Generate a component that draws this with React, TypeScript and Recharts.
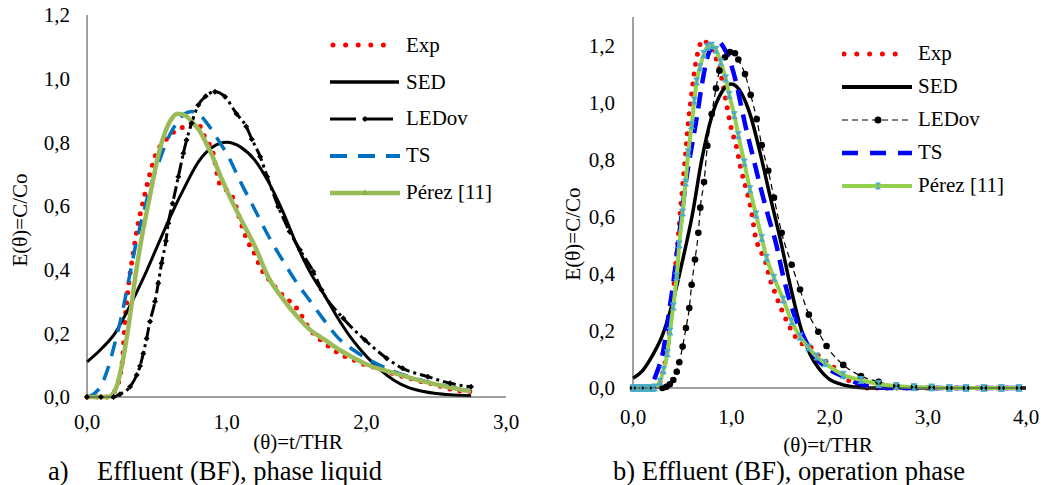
import { LineChart, Line, XAxis, YAxis, Legend } from "recharts";

const FONT = '"Liberation Serif", "Times New Roman", serif';
const FRAME = "#404040";

const seriesNames = ["Exp", "SED", "LEDov", "TS", "Pérez [11]"];

// a) Effluent (BF), phase liquid  -> [θ, E(θ)]
const expA = [
  [0, 0], [0.05, 0], [0.1, 0], [0.15, 0], [0.2, 0.02], [0.25, 0.1], [0.28, 0.28], [0.3, 0.36],
  [0.33, 0.45], [0.36, 0.53], [0.4, 0.61], [0.45, 0.7], [0.5, 0.77], [0.55, 0.8], [0.6, 0.825],
  [0.65, 0.84], [0.7, 0.85], [0.75, 0.86], [0.8, 0.855], [0.85, 0.81], [0.9, 0.77], [0.95, 0.67],
  [1.0, 0.65], [1.05, 0.62], [1.1, 0.55], [1.15, 0.49], [1.2, 0.45], [1.25, 0.4], [1.3, 0.37],
  [1.4, 0.32], [1.5, 0.28], [1.6, 0.21], [1.7, 0.17], [1.8, 0.138], [1.9, 0.118], [2.0, 0.1],
  [2.1, 0.088], [2.2, 0.072], [2.3, 0.06], [2.4, 0.048], [2.5, 0.038], [2.6, 0.025], [2.75, 0.017],
];
const sedA = [
  [0, 0.11], [0.1, 0.15], [0.2, 0.2], [0.3, 0.28], [0.4, 0.37], [0.5, 0.47], [0.6, 0.57],
  [0.7, 0.66], [0.8, 0.74], [0.9, 0.785], [1.0, 0.8], [1.1, 0.785], [1.2, 0.745], [1.3, 0.675],
  [1.4, 0.585], [1.5, 0.48], [1.6, 0.39], [1.7, 0.32], [1.8, 0.245], [1.9, 0.18], [2.0, 0.128],
  [2.1, 0.085], [2.2, 0.052], [2.3, 0.03], [2.4, 0.018], [2.5, 0.011], [2.6, 0.007], [2.75, 0.004],
];
const ledA = [
  [0, 0], [0.1, 0], [0.19, 0], [0.236, 0.009], [0.308, 0.032], [0.356, 0.069], [0.38, 0.097],
  [0.403, 0.137], [0.427, 0.184], [0.451, 0.237], [0.487, 0.3], [0.51, 0.357], [0.534, 0.42],
  [0.565, 0.49], [0.582, 0.546], [0.613, 0.608], [0.654, 0.692], [0.69, 0.766], [0.713, 0.807],
  [0.749, 0.86], [0.797, 0.917], [0.85, 0.945], [0.916, 0.959], [0.988, 0.943], [1.07, 0.89],
  [1.14, 0.85], [1.18, 0.81], [1.24, 0.755], [1.29, 0.692], [1.37, 0.598], [1.45, 0.52],
  [1.525, 0.462], [1.62, 0.394], [1.68, 0.336], [1.835, 0.247], [1.99, 0.179], [2.145, 0.122],
  [2.26, 0.09], [2.44, 0.064], [2.6, 0.043], [2.75, 0.032],
];
const tsA = [
  [0, 0], [0.05, 0.01], [0.1, 0.035], [0.15, 0.09], [0.2, 0.17], [0.25, 0.26], [0.3, 0.37],
  [0.35, 0.48], [0.4, 0.57], [0.45, 0.655], [0.5, 0.72], [0.55, 0.78], [0.6, 0.83], [0.65, 0.865],
  [0.7, 0.89], [0.75, 0.897], [0.8, 0.89], [0.85, 0.865], [0.9, 0.835], [0.95, 0.8], [1.0, 0.765],
  [1.1, 0.675], [1.2, 0.59], [1.3, 0.505], [1.4, 0.43], [1.5, 0.36], [1.6, 0.3], [1.7, 0.24],
  [1.8, 0.185], [1.9, 0.15], [2.0, 0.122], [2.2, 0.08], [2.4, 0.052], [2.6, 0.032], [2.75, 0.02],
];
const perezA = [
  [0, 0], [0.05, 0], [0.1, 0], [0.15, 0], [0.2, 0.02], [0.25, 0.1], [0.3, 0.23], [0.35, 0.39],
  [0.4, 0.52], [0.45, 0.63], [0.5, 0.74], [0.55, 0.82], [0.6, 0.87], [0.65, 0.89], [0.7, 0.885],
  [0.75, 0.865], [0.8, 0.84], [0.85, 0.8], [0.9, 0.755], [0.95, 0.7], [1.0, 0.65], [1.1, 0.56],
  [1.2, 0.475], [1.3, 0.375], [1.4, 0.31], [1.5, 0.255], [1.6, 0.21], [1.7, 0.18], [1.8, 0.15],
  [1.9, 0.125], [2.0, 0.103], [2.2, 0.075], [2.4, 0.05], [2.6, 0.03], [2.75, 0.018],
];

// b) Effluent (BF), operation phase
const expB = [
  [0, 0], [0.1, 0], [0.2, 0], [0.25, 0.005], [0.3, 0.05], [0.35, 0.14], [0.4, 0.3], [0.45, 0.49],
  [0.5, 0.69], [0.53, 0.8], [0.56, 0.92], [0.6, 1.04], [0.63, 1.12], [0.67, 1.19], [0.71, 1.22],
  [0.75, 1.21], [0.8, 1.19], [0.85, 1.15], [0.9, 1.09], [0.95, 1.0], [1.0, 0.91], [1.05, 0.85],
  [1.1, 0.765], [1.15, 0.7], [1.2, 0.63], [1.25, 0.525], [1.3, 0.48], [1.35, 0.44], [1.4, 0.375],
  [1.45, 0.33], [1.5, 0.285], [1.55, 0.245], [1.6, 0.21], [1.7, 0.16], [1.8, 0.145], [1.9, 0.11],
  [2.0, 0.085], [2.1, 0.055], [2.2, 0.025], [2.3, 0.005], [2.4, 0], [2.6, 0], [3.0, 0], [3.5, 0],
  [4.0, 0],
];
const sedB = [
  [0, 0.034], [0.1, 0.062], [0.2, 0.115], [0.3, 0.185], [0.4, 0.295], [0.5, 0.44], [0.6, 0.6],
  [0.7, 0.8], [0.8, 0.95], [0.9, 1.035], [1.0, 1.065], [1.1, 1.035], [1.2, 0.95], [1.3, 0.815],
  [1.4, 0.665], [1.5, 0.52], [1.6, 0.36], [1.7, 0.22], [1.8, 0.12], [1.9, 0.065], [2.0, 0.03],
  [2.1, 0.015], [2.2, 0.006], [2.3, 0.002], [2.5, 0], [3.0, 0], [3.5, 0], [4.0, 0],
];
const ledB = [
  [0, 0], [0.1, 0], [0.2, 0], [0.3, 0], [0.34, 0.004], [0.375, 0.013], [0.41, 0.028],
  [0.445, 0.057], [0.471, 0.09], [0.505, 0.145], [0.539, 0.21], [0.573, 0.28], [0.597, 0.362],
  [0.631, 0.45], [0.665, 0.544], [0.685, 0.632], [0.723, 0.722], [0.757, 0.849], [0.801, 0.96],
  [0.845, 1.05], [0.879, 1.112], [0.936, 1.159], [0.987, 1.177], [1.038, 1.173], [1.072, 1.151],
  [1.14, 1.1], [1.198, 1.027], [1.259, 0.942], [1.31, 0.851], [1.377, 0.761], [1.435, 0.667],
  [1.513, 0.544], [1.615, 0.432], [1.7, 0.345], [1.79, 0.257], [1.886, 0.197], [1.97, 0.147],
  [2.14, 0.081], [2.32, 0.042], [2.5, 0.022], [2.68, 0.007], [2.86, 0.003], [3.04, 0.001],
  [3.22, 0], [3.39, 0], [3.57, 0], [3.75, 0], [3.93, 0],
];
const tsB = [
  [0, 0], [0.1, 0], [0.15, 0.005], [0.2, 0.02], [0.24, 0.052], [0.31, 0.134], [0.36, 0.25],
  [0.41, 0.368], [0.45, 0.48], [0.5, 0.62], [0.55, 0.75], [0.6, 0.85], [0.65, 0.95], [0.7, 1.06],
  [0.75, 1.15], [0.8, 1.195], [0.87, 1.214], [0.92, 1.195], [0.99, 1.142], [1.05, 1.07],
  [1.1, 0.99], [1.15, 0.91], [1.2, 0.84], [1.25, 0.77], [1.3, 0.7], [1.37, 0.61], [1.46, 0.5],
  [1.53, 0.39], [1.6, 0.3], [1.75, 0.17], [1.85, 0.11], [1.97, 0.072], [2.14, 0.04], [2.3, 0.015],
  [2.45, 0.003], [2.6, 0], [3.0, 0], [3.5, 0], [4.0, 0],
];
const perezB = [
  [0, 0], [0.04, 0], [0.08, 0], [0.12, 0], [0.16, 0], [0.2, 0], [0.22, 0.002], [0.275, 0.022],
  [0.31, 0.063], [0.35, 0.122], [0.377, 0.198], [0.41, 0.286], [0.445, 0.391], [0.471, 0.503],
  [0.505, 0.615], [0.535, 0.72], [0.563, 0.825], [0.597, 0.921], [0.624, 1.007], [0.648, 1.074],
  [0.682, 1.124], [0.72, 1.17], [0.757, 1.195], [0.8, 1.2], [0.845, 1.185], [0.892, 1.142],
  [0.943, 1.085], [0.98, 1.027], [1.031, 0.956], [1.072, 0.886], [1.133, 0.79], [1.19, 0.696],
  [1.252, 0.608], [1.31, 0.526], [1.36, 0.456], [1.435, 0.386], [1.53, 0.31], [1.615, 0.233],
  [1.7, 0.18], [1.785, 0.142], [1.87, 0.11], [1.954, 0.087], [2.14, 0.046], [2.32, 0.028],
  [2.5, 0.014], [2.68, 0.007], [2.86, 0.003], [3.04, 0.002], [3.22, 0], [3.39, 0], [3.57, 0],
  [3.75, 0], [3.93, 0],
];

const xTicksA = [0, 1, 2, 3];
const xTicksB = [0, 1, 2, 3, 4];
const yTicks = [0, 0.2, 0.4, 0.6, 0.8, 1.0, 1.2];

const toPts = (arr: number[][]) => arr.map(([x, y]) => ({ x, y }));
const fmt = (v: number) => v.toFixed(1).replace(".", ",");
const tickStyle = { fontSize: 21, fill: "#000", fontFamily: FONT };

const DiamondDot = (p: any) => {
  const { cx, cy, index } = p;
  if (cx == null || cy == null) return <g key={`d${index}`} />;
  return (
    <path key={`d${index}`} d={`M${cx},${cy - 3}L${cx + 3},${cy}L${cx},${cy + 3}L${cx - 3},${cy}Z`} fill="#000" />
  );
};

const CircleDot = (p: any) => {
  const { cx, cy, index } = p;
  if (cx == null || cy == null) return <g key={`c${index}`} />;
  return <circle key={`c${index}`} cx={cx} cy={cy} r={3.3} fill="#000" />;
};

const HourglassDot = (p: any) => {
  const { cx, cy, index } = p;
  if (cx == null || cy == null) return <g key={`h${index}`} />;
  return (
    <path
      key={`h${index}`}
      d={`M${cx - 3},${cy - 3.5}L${cx + 3},${cy - 3.5}L${cx - 3},${cy + 3.5}L${cx + 3},${cy + 3.5}Z`}
      fill="#4BACC6"
      stroke="#4BACC6"
      strokeWidth={0.8}
    />
  );
};

// legend swatches, drawn on a 72x20 box
function swatchA(name: string) {
  switch (name) {
    case "Exp":
      return <line x1={3} x2={66} y1={10} y2={10} stroke="#FF0000" strokeWidth={5} strokeDasharray="0 12.6" strokeLinecap="round" />;
    case "SED":
      return <line x1={0} x2={69} y1={10} y2={10} stroke="#000" strokeWidth={3.5} />;
    case "LEDov":
      return (
        <g>
          <line x1={0} x2={26} y1={10} y2={10} stroke="#000" strokeWidth={3} />
          <line x1={33} x2={63} y1={10} y2={10} stroke="#000" strokeWidth={3} />
          <path d="M35,7L38,10L35,13L32,10Z" fill="#000" />
        </g>
      );
    case "TS":
      return <line x1={0} x2={70} y1={10} y2={10} stroke="#0070C0" strokeWidth={4} strokeDasharray="17 11" />;
    default:
      return (
        <g>
          <line x1={0} x2={70} y1={10} y2={10} stroke="#9BBB59" strokeWidth={4.5} />
          <path d="M35,6L38,12L32,12Z" fill="#8FAF4D" />
        </g>
      );
  }
}

function swatchB(name: string) {
  switch (name) {
    case "Exp":
      return <line x1={2} x2={66} y1={10} y2={10} stroke="#FF0000" strokeWidth={5} strokeDasharray="0 12.8" strokeLinecap="round" />;
    case "SED":
      return <line x1={0} x2={70} y1={10} y2={10} stroke="#000" strokeWidth={4} />;
    case "LEDov":
      return (
        <g>
          <line x1={0} x2={70} y1={10} y2={10} stroke="#000" strokeWidth={1.2} strokeDasharray="6 4" />
          <circle cx={36} cy={10} r={3.5} fill="#000" />
        </g>
      );
    case "TS":
      return <line x1={0} x2={70} y1={10} y2={10} stroke="#0000FF" strokeWidth={4.5} strokeDasharray="16 12" />;
    default:
      return (
        <g>
          <line x1={0} x2={70} y1={10} y2={10} stroke="#92D050" strokeWidth={4} />
          <path d="M33,6.5L39,6.5L33,13.5L39,13.5Z" fill="#4BACC6" />
        </g>
      );
  }
}

// keep the series order of the original legend (Recharts sorts by name otherwise)
const makeLegend = (swatch: (n: string) => any, rowH: number) => () => (
  <div style={{ fontFamily: FONT, fontSize: 21, color: "#000" }}>
    {seriesNames.map((name) => (
      <div key={name} style={{ display: "flex", alignItems: "center", height: rowH }}>
        <svg width={72} height={20} style={{ marginRight: 4 }}>
          {swatch(name)}
        </svg>
        <span style={{ whiteSpace: "nowrap" }}>{name}</span>
      </div>
    ))}
  </div>
);

const yTitle = (x: number, y: number) => () => (
  <text x={x} y={y} transform={`rotate(-90 ${x} ${y})`} textAnchor="middle" dominantBaseline="central" fontFamily={FONT} fontSize={21} fill="#000">
    E(θ)=C/Co
  </text>
);

const xTitle = (x: number, y: number) => () => (
  <text x={x} y={y} textAnchor="middle" dominantBaseline="central" fontFamily={FONT} fontSize={21} fill="#000">
    (θ)=t/THR
  </text>
);

function ChartA() {
  return (
    <LineChart width={520} height={485} margin={{ top: 15, right: 14, bottom: 58, left: 0 }}>
      <XAxis
        type="number"
        dataKey="x"
        domain={[0, 3]}
        ticks={xTicksA}
        tickFormatter={fmt}
        tick={tickStyle}
        tickLine={false}
        tickSize={0}
        tickMargin={17}
        height={30}
        axisLine={{ stroke: FRAME }}
        allowDuplicatedCategory={false}
        label={xTitle(298, 442)}
      />
      <XAxis xAxisId="top" orientation="top" type="number" domain={[0, 3]} height={0} tick={false} tickLine={false} axisLine={{ stroke: FRAME }} />
      <YAxis
        type="number"
        domain={[0, 1.2]}
        ticks={yTicks}
        tickFormatter={fmt}
        tick={tickStyle}
        tickLine={false}
        tickSize={0}
        tickMargin={17}
        width={87}
        axisLine={{ stroke: FRAME }}
        label={yTitle(20, 220)}
      />
      <YAxis yAxisId="right" orientation="right" domain={[0, 1.2]} width={0} tick={false} tickLine={false} axisLine={{ stroke: FRAME }} />
      <Legend
        layout="vertical"
        align="center"
        verticalAlign="middle"
        wrapperStyle={{ left: 330, top: 27, width: 180 }}
        content={makeLegend(swatchA, 36.8)}
      />
      <Line data={toPts(expA)} dataKey="y" name="Exp" type="monotone" stroke="#FF0000" strokeWidth={5} strokeDasharray="0 10" strokeLinecap="round" dot={false} isAnimationActive={false} />
      <Line data={toPts(sedA)} dataKey="y" name="SED" type="monotone" stroke="#000" strokeWidth={3} dot={false} isAnimationActive={false} />
      <Line data={toPts(ledA)} dataKey="y" name="LEDov" type="monotone" stroke="#000" strokeWidth={3} strokeDasharray="13 4 3 4" dot={DiamondDot} isAnimationActive={false} />
      <Line data={toPts(tsA)} dataKey="y" name="TS" type="monotone" stroke="#0070C0" strokeWidth={3.5} strokeDasharray="15 10" dot={false} isAnimationActive={false} />
      <Line data={toPts(perezA)} dataKey="y" name="Pérez [11]" type="monotone" stroke="#9BBB59" strokeWidth={4.5} dot={false} isAnimationActive={false} />
    </LineChart>
  );
}

function ChartB() {
  return (
    <LineChart width={521} height={485} margin={{ top: 17, right: 15, bottom: 67, left: 0 }}>
      <XAxis
        type="number"
        dataKey="x"
        domain={[0, 4]}
        ticks={xTicksB}
        tickFormatter={fmt}
        tick={tickStyle}
        tickLine={false}
        tickSize={0}
        tickMargin={21}
        height={30}
        axisLine={{ stroke: FRAME }}
        allowDuplicatedCategory={false}
        label={xTitle(308, 445)}
      />
      <XAxis xAxisId="top" orientation="top" type="number" domain={[0, 4]} height={0} tick={false} tickLine={false} axisLine={{ stroke: FRAME }} />
      <YAxis
        type="number"
        domain={[0, 1.3]}
        ticks={yTicks}
        tickFormatter={fmt}
        tick={tickStyle}
        tickLine={false}
        tickSize={0}
        tickMargin={18}
        width={113}
        axisLine={{ stroke: FRAME }}
        label={yTitle(53, 234)}
      />
      <YAxis yAxisId="right" orientation="right" domain={[0, 1.3]} width={0} tick={false} tickLine={false} axisLine={{ stroke: FRAME }} />
      <Legend
        layout="vertical"
        align="center"
        verticalAlign="middle"
        wrapperStyle={{ left: 322, top: 37, width: 190 }}
        content={makeLegend(swatchB, 33)}
      />
      <Line data={toPts(expB)} dataKey="y" name="Exp" type="monotone" stroke="#FF0000" strokeWidth={5} strokeDasharray="0 10" strokeLinecap="round" dot={false} isAnimationActive={false} />
      <Line data={toPts(sedB)} dataKey="y" name="SED" type="monotone" stroke="#000" strokeWidth={3.5} dot={false} isAnimationActive={false} />
      <Line data={toPts(ledB)} dataKey="y" name="LEDov" type="monotone" stroke="#000" strokeWidth={1.2} strokeDasharray="6 4" dot={CircleDot} isAnimationActive={false} />
      <Line data={toPts(tsB)} dataKey="y" name="TS" type="monotone" stroke="#0000FF" strokeWidth={4.5} strokeDasharray="16 9" dot={false} isAnimationActive={false} />
      <Line data={toPts(perezB)} dataKey="y" name="Pérez [11]" type="monotone" stroke="#92D050" strokeWidth={4} dot={HourglassDot} isAnimationActive={false} />
    </LineChart>
  );
}

export default function App() {
  const caption = {
    position: "absolute" as const,
    top: 458,
    fontFamily: FONT,
    fontSize: 26.5,
    color: "#000",
    whiteSpace: "nowrap" as const,
    lineHeight: "27px",
  };
  return (
    <div style={{ position: "absolute", left: 0, top: 0, width: 1041, height: 485, background: "#fff", overflow: "hidden" }}>
      <div style={{ position: "absolute", left: 0, top: 0 }}>
        <ChartA />
      </div>
      <div style={{ position: "absolute", left: 520, top: 0 }}>
        <ChartB />
      </div>
      <div style={{ ...caption, left: 48 }}>a)</div>
      <div style={{ ...caption, left: 97 }}>Effluent (BF), phase liquid</div>
      <div style={{ ...caption, left: 613 }}>b) Effluent (BF), operation phase</div>
    </div>
  );
}
